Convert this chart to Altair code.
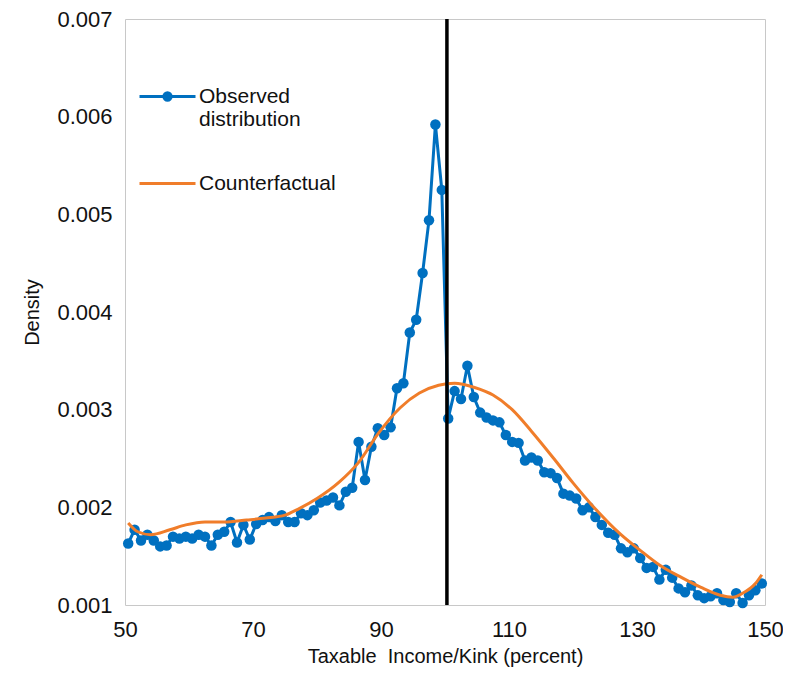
import altair as alt
import pandas as pd

# Observed distribution: bin centres (percent of kink) and density (x 0.001)
obs_x = [50.5 + i for i in range(100)]
obs_y = [
    1.63, 1.77, 1.66, 1.72, 1.66, 1.60, 1.61, 1.70, 1.68, 1.70,
    1.68, 1.72, 1.70, 1.61, 1.72, 1.75, 1.85, 1.64, 1.82, 1.67,
    1.83, 1.87, 1.90, 1.86, 1.92,
    1.85, 1.85, 1.94, 1.92, 1.97, 2.05, 2.07, 2.10, 2.02, 2.16,
    2.20, 2.67, 2.28, 2.62, 2.81, 2.74, 2.82, 3.22, 3.27, 3.79,
    3.92, 4.40, 4.94, 5.92, 5.25,
    2.91, 3.19, 3.11, 3.45, 3.13, 2.97, 2.92, 2.89, 2.87, 2.74,
    2.67, 2.66, 2.48, 2.51, 2.48, 2.36, 2.35, 2.30, 2.14, 2.12,
    2.09, 1.97, 2.00, 1.90,
    1.82, 1.74, 1.72, 1.58, 1.54, 1.58, 1.48, 1.38, 1.39, 1.26,
    1.36, 1.28, 1.17, 1.13, 1.20, 1.10, 1.07, 1.09, 1.12, 1.05,
    1.03, 1.12, 1.02, 1.10, 1.15, 1.22,
]

# Counterfactual (smooth) density (x 0.001)
cf_x = [50.5, 52, 54, 57, 59.5, 62.5, 65.5, 69, 72, 75, 77, 80, 83.5, 86.5,
        89.5, 93, 96, 99, 101.5, 104.5, 107.5, 110.5, 113.5, 117, 120, 123,
        127.5, 130.5, 133.5, 137, 140, 143, 145, 146.5, 148.5, 149.5]
cf_y = [1.84, 1.75, 1.72, 1.77, 1.82, 1.85, 1.85, 1.87, 1.89, 1.92, 1.98,
        2.09, 2.26, 2.46, 2.75, 3.02, 3.17, 3.25, 3.27, 3.23, 3.15, 3.00,
        2.78, 2.50, 2.25, 2.02, 1.72, 1.56, 1.41, 1.28, 1.18, 1.10, 1.08,
        1.12, 1.22, 1.31]

kink_x = [100.3]

x_ticks = [50, 70, 90, 110, 130, 150]
y_ticks = [0.001, 0.002, 0.003, 0.004, 0.005, 0.006, 0.007]

BLUE = "#0070C0"
ORANGE = "#F07D2A"
FONT = "Liberation Sans"

obs_df = pd.DataFrame({"x": obs_x, "y": [v / 1000 for v in obs_y],
                       "s": "Observed distribution"})
cf_df = pd.DataFrame({"x": cf_x, "y": [v / 1000 for v in cf_y],
                      "s": "Counterfactual"})
kink_df = pd.DataFrame({"x": kink_x})

xscale = alt.Scale(domain=[50, 150], nice=False, zero=False)
yscale = alt.Scale(domain=[0.001, 0.007], nice=False, zero=False)

xaxis = alt.Axis(values=x_ticks, title="Taxable\u00a0 Income/Kink (percent)",
                 labelPadding=14, titlePadding=6, labelFlush=False)
yaxis = alt.Axis(values=y_ticks, format=".3f", title="Density",
                 labelPadding=13, titlePadding=14, labelFlush=False)

obs = alt.Chart(obs_df).mark_line(
    strokeWidth=3,
    point=alt.OverlayMarkDef(filled=True, size=110, opacity=1),
).encode(
    x=alt.X("x:Q", scale=xscale, axis=xaxis),
    y=alt.Y("y:Q", scale=yscale, axis=yaxis),
    color=alt.Color(
        "s:N",
        scale=alt.Scale(domain=["Observed distribution"], range=[BLUE]),
        legend=alt.Legend(
            orient="none", legendX=13, legendY=48, title=None, padding=0,
            symbolType="M-1,0H1M0.13,0A0.13,0.13,0,1,1,-0.13,0A0.13,0.13,0,1,1,0.13,0",
            symbolSize=3136, symbolStrokeWidth=3, symbolStrokeColor=BLUE,
            labelExpr="['Observed', 'distribution']",
            labelBaseline="middle", labelOffset=2,
        ),
    ),
)

cf = alt.Chart(cf_df).mark_line(strokeWidth=3, interpolate="monotone").encode(
    x=alt.X("x:Q", scale=xscale),
    y=alt.Y("y:Q", scale=yscale),
    color=alt.Color(
        "s:N",
        scale=alt.Scale(domain=["Counterfactual"], range=[ORANGE]),
        legend=alt.Legend(
            orient="none", legendX=13, legendY=135, title=None, padding=0,
            symbolType="stroke", symbolSize=3136, symbolStrokeWidth=3,
            labelOffset=2,
        ),
    ),
)

rule = alt.Chart(kink_df).mark_rule(color="black", strokeWidth=3.5).encode(
    x=alt.X("x:Q", scale=xscale)
)

chart = alt.layer(obs, cf, rule).resolve_scale(color="independent").properties(
    width=640, height=586,
    autosize=alt.AutoSizeParams(type="none"),
    padding={"left": 117, "top": 11, "right": 18, "bottom": 62},
).configure_view(
    stroke="#c8c8c8", strokeWidth=1
).configure_axis(
    domain=False, ticks=False, grid=False,
    labelFont=FONT, labelFontSize=22, labelColor="#111111",
    titleFont=FONT, titleFontSize=20, titleFontWeight="normal",
    titleColor="#111111",
).configure_legend(
    labelFont=FONT, labelFontSize=21, labelColor="#111111", labelLimit=300,
)

chart.save("out.html", embed_options={"renderer": "svg", "actions": False})
